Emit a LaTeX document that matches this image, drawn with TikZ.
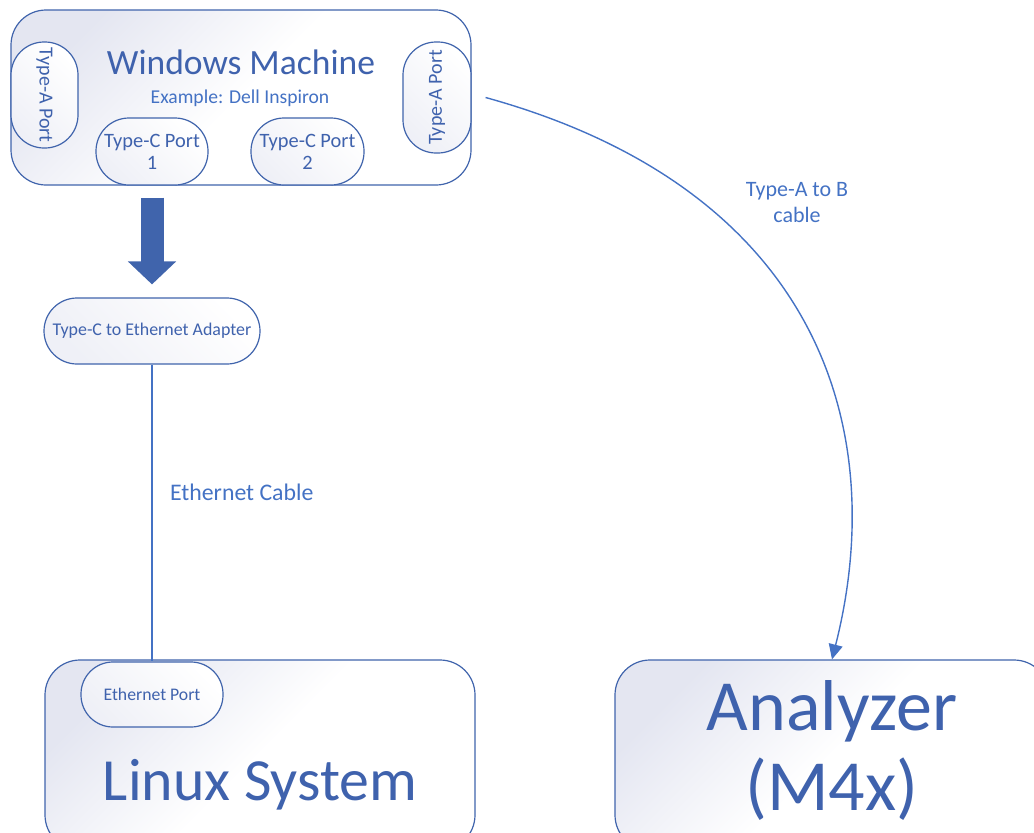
\documentclass[tikz,border=0pt]{standalone}
\usepackage{fontspec}
\setmainfont{Carlito}
\usetikzlibrary{arrows.meta}
\definecolor{boxline}{HTML}{4064AC}
\definecolor{txtblue}{HTML}{3F62AD}
\definecolor{wireblue}{HTML}{4472C4}
\definecolor{tint}{HTML}{E4E6F1}
\tikzset{
  machine/.style={draw=boxline, line width=1.2pt, rounded corners=35pt,
    top color=tint, bottom color=white, middle color=white, shading angle=45,
    inner sep=0pt},
  port/.style={draw=boxline, line width=1.2pt,
    top color=white, bottom color=tint!60, shading angle=-45,
    inner sep=0pt, text=txtblue, align=center},
  wire/.style={draw=wireblue, line width=1.4pt},
  lbl/.style={text=txtblue, align=center, inner sep=0pt}
}
\begin{document}
\begin{tikzpicture}[x=1pt,y=-1pt]
\useasboundingbox (0,0) rectangle (1034,833);

\node[machine, minimum width=460pt, minimum height=175pt] (win) at (241,97.5) {};
\node[port, rounded corners=33pt, minimum width=67pt, minimum height=106pt] (portAL) at (44.5,95)
  {\rotatebox{-90}{\fontsize{20}{22}\selectfont Type-A Port}};
\node[port, rounded corners=33pt, minimum width=68pt, minimum height=111pt] (portAR) at (437,97.5)
  {\rotatebox{90}{\fontsize{20}{22}\selectfont Type-A Port}};
\node[port, rounded corners=33pt, minimum width=112pt, minimum height=67pt, font=\fontsize{20.4}{22}\selectfont] (portC1) at (152,151.5) {Type-C Port\\1};
\node[port, rounded corners=33pt, minimum width=113pt, minimum height=67pt, font=\fontsize{20.4}{22}\selectfont] (portC2) at (307.5,151.5) {Type-C Port\\2};
\node[lbl, font=\fontsize{35.5}{38}\selectfont] (wintitle) at (241,62) {Windows Machine};
\node[lbl, text=wireblue, font=\fontsize{19.6}{22}\selectfont] (winsub) at (240,98) {Example: Dell Inspiron};

\node[port, rounded corners=33pt, minimum width=216pt, minimum height=66pt, font=\fontsize{17.9}{20}\selectfont] (adapter) at (152,331) {Type-C to Ethernet Adapter};

\draw[draw=boxline, line width=23pt, -{Triangle[width=47pt,length=23pt]}]
  ([yshift=-12pt]portC1.south) -- ([yshift=13pt]adapter.north);

\node[machine, minimum width=430pt, minimum height=190pt] (linux) at (260,755) {};
\node[port, rounded corners=32pt, minimum width=142pt, minimum height=65pt, font=\fontsize{17.7}{20}\selectfont] (ethport) at (152,694.5) {Ethernet Port};
\node[lbl, font=\fontsize{59.8}{64}\selectfont] (linuxtitle) at (260,785) {Linux System};

\node[machine, minimum width=434pt, minimum height=190pt] (analyzer) at (832,755) {};
\node[lbl, font=\fontsize{72}{80}\selectfont] (antitle) at (832,750) {Analyzer\\(M4x)};

\draw[wire] (adapter.south) -- (ethport.north)
  node[pos=0.43, right=14pt, text=wireblue, font=\fontsize{23.8}{26}\selectfont] {Ethernet Cable};

\draw[wire, -{Triangle[width=14pt,length=15pt]}]
  ([xshift=14pt]portAR.east) .. controls (820,190) and (890,430) .. (analyzer.north);
\node[lbl, text=wireblue, font=\fontsize{22}{26}\selectfont] (cablelbl) at (797,203) {Type-A to B\\cable};
\end{tikzpicture}
\end{document}
